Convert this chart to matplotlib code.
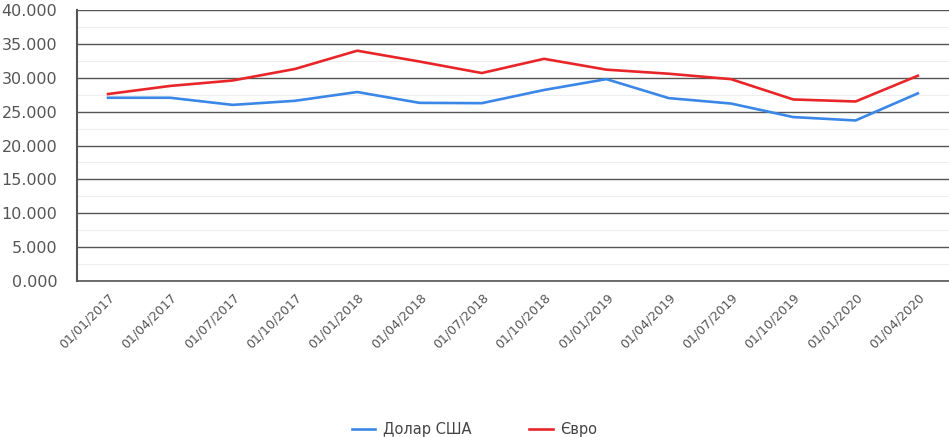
import matplotlib.pyplot as plt
from matplotlib.ticker import MultipleLocator, FuncFormatter

# Quarterly exchange rates (UAH)
dates = ["01/01/2017", "01/04/2017", "01/07/2017", "01/10/2017",
         "01/01/2018", "01/04/2018", "01/07/2018", "01/10/2018",
         "01/01/2019", "01/04/2019", "01/07/2019", "01/10/2019",
         "01/01/2020", "01/04/2020"]
usd = [27.05, 27.05, 26.0, 26.6, 27.9, 26.3, 26.25, 28.2,
       29.8, 27.0, 26.2, 24.2, 23.7, 27.7]
eur = [27.6, 28.8, 29.6, 31.3, 34.0, 32.4, 30.7, 32.8,
       31.2, 30.6, 29.8, 26.8, 26.5, 30.3]

fig = plt.figure(figsize=(9.49, 4.37), dpi=100)
ax = fig.add_axes([0.081, 0.357, 0.919, 0.620])

x = range(len(dates))
ax.plot(x, usd, color="#3a87e8", lw=1.9, label="Долар США")
ax.plot(x, eur, color="#e8262a", lw=1.9, label="Євро")

ax.set_xlim(-0.5, len(dates) - 0.5)
ax.set_ylim(0, 40)
ax.yaxis.set_major_locator(MultipleLocator(5))
ax.yaxis.set_minor_locator(MultipleLocator(2.5))
ax.yaxis.set_major_formatter(FuncFormatter(lambda v, p: f"{v:.3f}"))
ax.grid(axis="y", which="major", color="#555555", lw=1.0)
ax.grid(axis="y", which="minor", color="#eeeeee", lw=0.8)
ax.set_axisbelow(True)

ax.set_xticks(list(x))
ax.set_xticklabels(dates, rotation=45, ha="right", rotation_mode="anchor",
                   fontsize=9, color="#555555")
ax.tick_params(axis="x", length=0, pad=7)
ax.tick_params(axis="y", which="both", length=0, labelsize=11.5, labelcolor="#555555", pad=14)

for s in ["top", "right"]:
    ax.spines[s].set_visible(False)
ax.spines["left"].set_color("#555555")
ax.spines["left"].set_linewidth(1.5)
ax.spines["bottom"].set_color("#555555")
ax.spines["bottom"].set_linewidth(1.2)

fig.legend(loc="lower center", bbox_to_anchor=(0.5, -0.03), ncol=2, frameon=False,
           fontsize=10.5, handlelength=1.6, handletextpad=0.5, columnspacing=4.0,
           labelcolor="#444444")

fig.savefig("out.png", dpi=100)
